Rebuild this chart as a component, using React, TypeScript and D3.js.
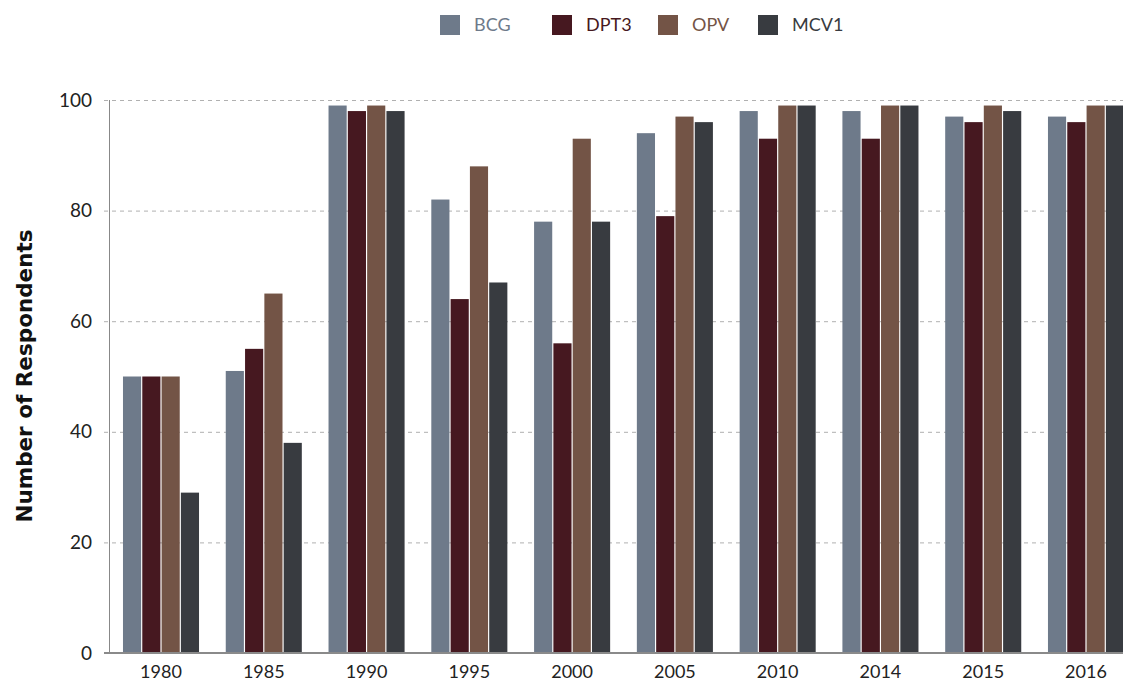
import React, { useRef, useEffect } from 'react';
import * as d3 from 'd3';

const years = ['1980', '1985', '1990', '1995', '2000', '2005', '2010', '2014', '2015', '2016'];
const seriesNames = ['BCG', 'DPT3', 'OPV', 'MCV1'];
const seriesColors = ['#6e7a8a', '#461820', '#735446', '#383b40'];
const bcg = [50, 51, 99, 82, 78, 94, 98, 98, 97, 97];
const dpt3 = [50, 55, 98, 64, 56, 79, 93, 93, 96, 96];
const opv = [50, 65, 99, 88, 93, 97, 99, 99, 99, 99];
const mcv1 = [29, 38, 98, 67, 78, 96, 99, 99, 98, 99];
const yTicks = [0, 20, 40, 60, 80, 100];

const FONT = 'Lato, "DejaVu Sans", sans-serif';

export default function App() {
  const svgRef = useRef(null);

  useEffect(() => {
    const W = 1123;
    const left = 109, right = 1138, top = 100, bottom = 653;
    const svg = d3.select(svgRef.current);
    svg.selectAll('*').remove();

    const values = [bcg, dpt3, opv, mcv1];

    const x = d3.scaleBand().domain(years).range([left, right]).paddingInner(0.26).paddingOuter(0.136);
    const xs = d3.scaleBand().domain(seriesNames).range([0, x.bandwidth()]).paddingInner(0.06);
    const y = d3.scaleLinear().domain([0, 100]).range([bottom, top]);

    // gridlines
    svg.append('g')
      .selectAll('line')
      .data(yTicks.filter(d => d > 0))
      .enter().append('line')
      .attr('x1', left - 5)
      .attr('x2', W)
      .attr('y1', d => y(d) + 0.5)
      .attr('y2', d => y(d) + 0.5)
      .attr('stroke', '#b0b0b0')
      .attr('stroke-width', 1)
      .attr('stroke-dasharray', '4,4');

    // bars
    values.forEach((vals, si) => {
      svg.append('g')
        .selectAll('rect')
        .data(vals)
        .enter().append('rect')
        .attr('x', (d, i) => x(years[i]) + xs(seriesNames[si]))
        .attr('width', xs.bandwidth())
        .attr('y', d => y(d))
        .attr('height', d => y(0) - y(d))
        .attr('fill', seriesColors[si]);
    });

    // y axis line
    svg.append('line')
      .attr('x1', left + 0.5).attr('x2', left + 0.5)
      .attr('y1', top).attr('y2', bottom)
      .attr('stroke', '#888').attr('stroke-width', 1);

    // baseline
    svg.append('line')
      .attr('x1', left - 5).attr('x2', W)
      .attr('y1', bottom).attr('y2', bottom)
      .attr('stroke', '#8a8a8a').attr('stroke-width', 2);

    // y tick labels
    svg.append('g')
      .selectAll('text')
      .data(yTicks)
      .enter().append('text')
      .attr('x', 92)
      .attr('y', d => y(d))
      .attr('dy', '0.35em')
      .attr('text-anchor', 'end')
      .attr('font-family', FONT)
      .attr('font-size', 19)
      .attr('fill', '#222')
      .text(d => d);

    // x labels
    svg.append('g')
      .selectAll('text')
      .data(years)
      .enter().append('text')
      .attr('x', d => x(d) + x.bandwidth() / 2)
      .attr('y', 678)
      .attr('text-anchor', 'middle')
      .attr('font-family', FONT)
      .attr('font-size', 18)
      .attr('fill', '#222')
      .text(d => d);

    // y title
    svg.append('text')
      .attr('transform', 'translate(32,376) rotate(-90)')
      .attr('text-anchor', 'middle')
      .attr('font-family', '"DejaVu Sans", sans-serif')
      .attr('font-weight', 'bold')
      .attr('font-size', 21.5)
      .attr('fill', '#111')
      .text('Number of Respondents');

    // legend
    const legendX = [440, 552, 658, 758];
    const legend = svg.append('g')
      .selectAll('g')
      .data(seriesNames)
      .enter().append('g')
      .attr('transform', (d, i) => `translate(${legendX[i]},15)`);
    legend.append('rect')
      .attr('width', 20).attr('height', 20)
      .attr('fill', (d, i) => seriesColors[i]);
    legend.append('text')
      .attr('x', 34).attr('y', 10)
      .attr('dy', '0.35em')
      .attr('font-family', FONT)
      .attr('font-size', 18)
      .attr('fill', (d, i) => seriesColors[i])
      .text(d => d);
  }, []);

  return (
    <svg ref={svgRef} width={1123} height={683}
      style={{ position: 'absolute', left: 0, top: 0, background: '#fff' }} />
  );
}
